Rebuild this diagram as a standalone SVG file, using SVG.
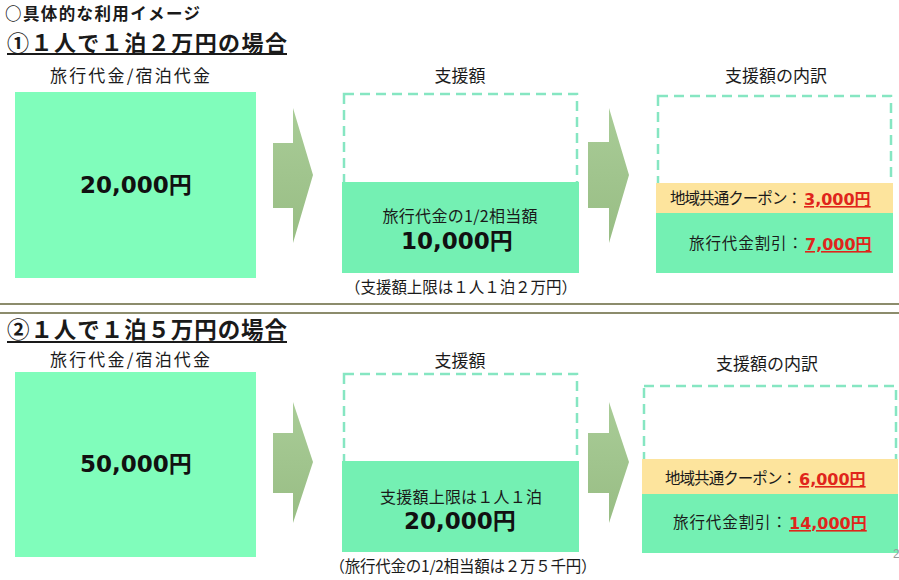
<svg xmlns="http://www.w3.org/2000/svg" width="899" height="580" viewBox="0 0 899 580">
<defs>
<style>
.jp{font-family:"Noto Sans CJK JP","Noto Sans",sans-serif;fill:#1a1a1a}
.b{font-weight:700}
.num{font-family:"DejaVu Sans","Noto Sans CJK JP",sans-serif;font-weight:700;fill:#111}
.red{font-family:"DejaVu Sans","Noto Sans CJK JP",sans-serif;font-weight:700;fill:#e0251b;text-decoration:underline}
.mint{fill:#80fdbb}
.green{fill:#74f0b3}
.yellow{fill:#fde49d}
.dash{fill:none;stroke:#86e6c2;stroke-width:2.5;stroke-dasharray:10 6}
.sep{stroke:#8c8c6c;stroke-width:2}
</style>
<linearGradient id="ag" x1="0" y1="0" x2="0" y2="1">
<stop offset="0" stop-color="#a9cc97"/>
<stop offset="1" stop-color="#98bd84"/>
</linearGradient>
</defs>
<rect width="899" height="580" fill="#fff"/>

<g id="header">
<text class="jp b" x="5" y="20" font-size="16.5" textLength="195">○具体的な利用イメージ</text>
<text class="jp b" x="7" y="51" font-size="22" textLength="280">①１人で１泊２万円の場合</text>
<line x1="7" y1="54" x2="287" y2="54" stroke="#1a1a1a" stroke-width="2"/>
</g>

<g id="case1-price">
<text class="jp" x="130" y="82" font-size="17" text-anchor="middle" textLength="160">旅行代金/宿泊代金</text>
<rect class="mint" x="15" y="92" width="241" height="186"/>
<text class="num" x="136" y="193" font-size="23" text-anchor="middle">20,000円</text>
</g>

<g id="case1-support">
<text class="jp" x="460" y="82" font-size="17" text-anchor="middle">支援額</text>
<rect class="dash" x="344" y="94" width="233" height="100"/>
<rect class="green" x="342" y="182" width="237" height="91"/>
<text class="jp" x="460" y="222" font-size="16" text-anchor="middle" textLength="155">旅行代金の1/2相当額</text>
<text class="num" x="457" y="249" font-size="23" text-anchor="middle">10,000円</text>
<text class="jp" x="461" y="293" font-size="15.5" text-anchor="middle" textLength="232">（支援額上限は１人１泊２万円）</text>
</g>

<g id="case1-breakdown">
<text class="jp" x="776" y="82" font-size="17" text-anchor="middle">支援額の内訳</text>
<rect class="dash" x="658" y="96" width="233" height="100"/>
<rect class="yellow" x="656" y="183" width="237" height="30"/>
<rect class="green" x="656" y="213" width="237" height="60"/>
<text class="jp" x="670" y="204" font-size="15.5" textLength="132">地域共通クーポン：</text>
<text class="red" x="804" y="205" font-size="16">3,000円</text>
<text class="jp" x="689" y="249" font-size="15.5" textLength="114">旅行代金割引：</text>
<text class="red" x="805" y="250" font-size="16">7,000円</text>
</g>

<g id="separator">
<line class="sep" x1="0" y1="304" x2="899" y2="304"/>
<line class="sep" x1="0" y1="313" x2="899" y2="313"/>
</g>

<g id="case2-title">
<text class="jp b" x="7" y="338" font-size="22.5" textLength="280">②１人で１泊５万円の場合</text>
<line x1="7" y1="342" x2="287" y2="342" stroke="#1a1a1a" stroke-width="2"/>
</g>

<g id="case2-price">
<text class="jp" x="130" y="366" font-size="17" text-anchor="middle" textLength="160">旅行代金/宿泊代金</text>
<rect class="mint" x="15" y="372" width="241" height="185"/>
<text class="num" x="136" y="472" font-size="23" text-anchor="middle">50,000円</text>
</g>

<g id="case2-support">
<text class="jp" x="460" y="367" font-size="17" text-anchor="middle">支援額</text>
<rect class="dash" x="344" y="374" width="233" height="100"/>
<rect class="green" x="342" y="461" width="237" height="91"/>
<text class="jp" x="461" y="503" font-size="16" text-anchor="middle" textLength="162">支援額上限は１人１泊</text>
<text class="num" x="460" y="529" font-size="23" text-anchor="middle">20,000円</text>
<text class="jp" x="463" y="572" font-size="15.5" text-anchor="middle" textLength="267">（旅行代金の1/2相当額は２万５千円）</text>
</g>

<g id="case2-breakdown">
<text class="jp" x="767" y="370" font-size="17" text-anchor="middle">支援額の内訳</text>
<rect class="dash" x="644" y="386" width="252" height="90"/>
<rect class="yellow" x="642" y="459" width="256" height="35"/>
<rect class="green" x="642" y="494" width="256" height="59"/>
<text class="jp" x="665" y="484" font-size="15.5" textLength="132">地域共通クーポン：</text>
<text class="red" x="799" y="485" font-size="16">6,000円</text>
<text class="jp" x="673" y="528" font-size="15.5" textLength="114">旅行代金割引：</text>
<text class="red" x="789" y="529" font-size="16">14,000円</text>
</g>

<g id="connectors">
<polygon fill="url(#ag)" points="273,143 293,143 293,108 313,175 293,243 293,208 273,208"/>
<polygon fill="url(#ag)" points="588,142 609,142 609,108 629,175 609,243 609,208 588,208"/>
<polygon fill="url(#ag)" points="273,433 293,433 293,402 313,462 293,523 293,493 273,493"/>
<polygon fill="url(#ag)" points="588,433 609,433 609,402 629,462 609,523 609,493 588,493"/>
</g>

<text x="893" y="558" font-family="Liberation Sans, sans-serif" font-size="12" fill="#9a9a9a">2</text>
</svg>
